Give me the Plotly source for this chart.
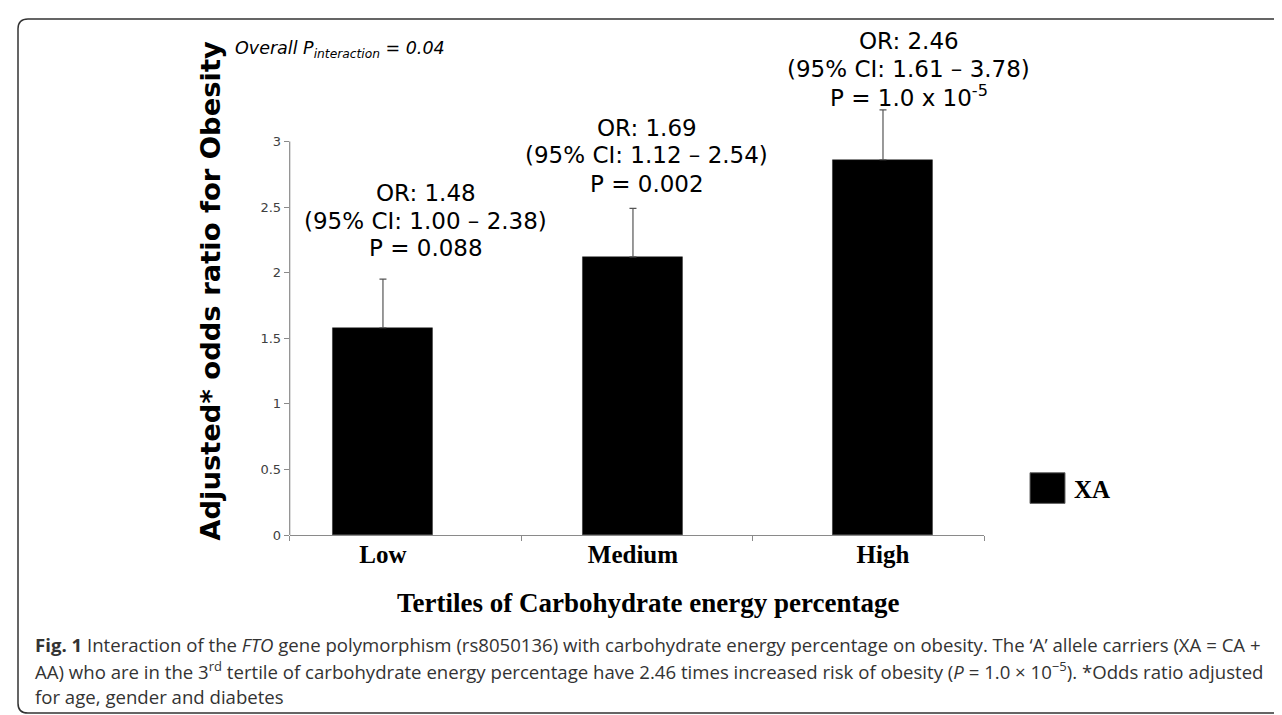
import plotly.graph_objects as go

W, H = 1282, 715

# ---------------- data ----------------
categories = ["Low", "Medium", "High"]
bar_values = [1.58, 2.12, 2.86]
err_plus = [0.37, 0.37, 0.38]
or_values = ["1.48", "1.69", "2.46"]
ci_low = ["1.00", "1.12", "1.61"]
ci_high = ["2.38", "2.54", "3.78"]
p_texts = ["P = 0.088", "P = 0.002", "P = 1.0 x 10<sup>-5</sup>"]
y_ticks = [0, 0.5, 1, 1.5, 2, 2.5, 3]
y_tick_labels = ["0", "0.5", "1", "1.5", "2", "2.5", "3"]
series_name = "XA"

# ---------------- helpers ----------------
def px(x):
    return x / W

def py(y):
    return 1 - y / H

x_dom = [px(281.7), px(976)]
y_bot, y_top_px = 533, 95.1
y_dom = [py(y_bot), py(y_top_px)]
y_range = [0, 3.3]

fig = go.Figure()
fig.add_trace(go.Bar(
    x=categories, y=bar_values, width=0.4,
    marker=dict(color="black", line=dict(color="#222", width=0.5)),
    error_y=dict(type="data", symmetric=False, array=err_plus,
                 arrayminus=[0] * len(err_plus),
                 color="#555555", thickness=1.2, width=3.5),
    name=series_name, showlegend=False,
))
# invisible trace on the overlay axis that carries the boundary ticks
fig.add_trace(go.Scatter(x=[], y=[], xaxis="x2", yaxis="y", showlegend=False))

fig.update_layout(
    width=W, height=H,
    margin=dict(l=0, r=0, t=0, b=0),
    paper_bgcolor="white", plot_bgcolor="white",
    bargap=0,
    xaxis=dict(domain=x_dom, range=[-0.373, 2.404], type="category",
               showline=False, ticks="", showgrid=False, zeroline=False,
               tickvals=categories, ticktext=[f"<b>{c}</b>" for c in categories],
               tickfont=dict(family="Liberation Serif", size=25, color="black"),
               ticklabelstandoff=2),
    xaxis2=dict(domain=x_dom, range=[0, 3], overlaying="x", anchor="y",
                side="bottom", showline=True, linecolor="#8a8a8a", linewidth=1.2,
                ticks="outside", ticklen=5, tickcolor="#8a8a8a", tickwidth=1,
                tickvals=[0, 1, 2, 3], showticklabels=False, showgrid=False,
                zeroline=False),
    yaxis=dict(domain=y_dom, range=y_range, showline=False, showgrid=False,
               zeroline=False, tickvals=y_ticks, ticktext=y_tick_labels,
               ticks="outside", ticklen=5, tickcolor="#8a8a8a",
               tickfont=dict(family="DejaVu Sans", size=13, color="#404040")),
)

# y axis line (only up to 3, like the reference)
fig.add_shape(type="line", xref="paper", yref="y", x0=x_dom[0], x1=x_dom[0],
              y0=0, y1=3, line=dict(color="#8a8a8a", width=1.2))

# outer rounded frame
x0, x1, y0, y1 = px(10), px(1276), py(713), py(11)
rx, ry = 10 / W, 10 / H
path = (f"M {x0+rx},{y1} L {x1-rx},{y1} Q {x1},{y1} {x1},{y1-ry} "
        f"L {x1},{y0+ry} Q {x1},{y0} {x1-rx},{y0} L {x0+rx},{y0} "
        f"Q {x0},{y0} {x0},{y0+ry} L {x0},{y1-ry} Q {x0},{y1} {x0+rx},{y1} Z")
fig.add_shape(type="path", xref="paper", yref="paper", path=path,
              line=dict(color="#333333", width=1.5))

ann = []
# y-axis title
ann.append(dict(text="<b>Adjusted* odds ratio for Obesity</b>", xref="paper", yref="paper",
                x=px(203), y=py(286), textangle=-90, showarrow=False,
                font=dict(family="DejaVu Sans", size=27.4, color="black"),
                xanchor="center", yanchor="middle"))
# x-axis title
ann.append(dict(text="<b>Tertiles of Carbohydrate energy percentage</b>", xref="paper",
                yref="paper", x=px(640), y=py(602), showarrow=False,
                font=dict(family="Liberation Serif", size=27, color="black"),
                xanchor="center", yanchor="middle"))
# overall p
ann.append(dict(text="<i>Overall P<sub>interaction</sub> = 0.04</i>", xref="paper",
                yref="paper", x=px(225), y=py(42), showarrow=False,
                font=dict(family="DejaVu Sans", size=17.5, color="black"),
                xanchor="left", yanchor="middle"))

# OR / CI / P labels above bars
label_x_shift = [43, 14, 26]
label_line_y = [[187, 215, 243], [121, 149, 178], [33, 62, 89]]
for i, cat in enumerate(categories):
    lines = [f"OR: {or_values[i]}", f"(95% CI: {ci_low[i]} – {ci_high[i]})", p_texts[i]]
    for j, t in enumerate(lines):
        ann.append(dict(text=t, xref="x", yref="paper", x=cat, xshift=label_x_shift[i],
                        y=py(label_line_y[i][j]), showarrow=False,
                        font=dict(family="DejaVu Sans", size=23, color="black"),
                        xanchor="center", yanchor="middle"))

# legend (drawn manually to match the large swatch)
fig.add_shape(type="rect", xref="paper", yref="paper", x0=px(1022), x1=px(1057),
              y0=py(501), y1=py(470), fillcolor="black", line=dict(color="#666", width=1))
ann.append(dict(text=f"<b>{series_name}</b>", xref="paper", yref="paper", x=px(1064),
                y=py(487), showarrow=False, xanchor="left", yanchor="middle",
                font=dict(family="Liberation Serif", size=25, color="black")))

# caption
caption_lines = [
    "<b>Fig. 1</b> Interaction of the <i>FTO</i> gene polymorphism (rs8050136) with carbohydrate energy percentage on obesity. The ‘A’ allele carriers (XA = CA +",
    "AA) who are in the 3<sup>rd</sup> tertile of carbohydrate energy percentage have 2.46 times increased risk of obesity (<i>P</i> = 1.0 × 10<sup>−5</sup>). *Odds ratio adjusted",
    "for age, gender and diabetes",
]
caption_y = [644, 670, 696]
for t, yy in zip(caption_lines, caption_y):
    ann.append(dict(text=t, xref="paper", yref="paper", x=px(25), y=py(yy),
                    showarrow=False, xanchor="left", yanchor="middle",
                    font=dict(family="Open Sans", size=18.6, color="#333333")))

fig.update_layout(annotations=ann)
fig.write_html("out.html")
